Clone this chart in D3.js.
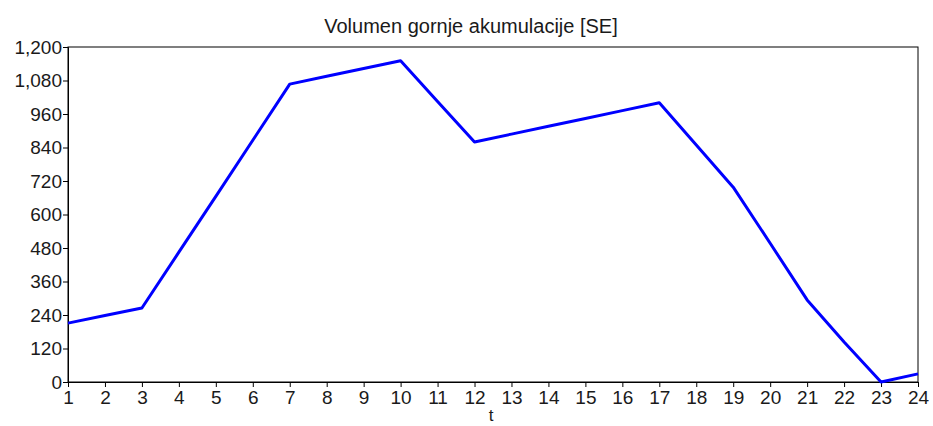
<!DOCTYPE html>
<html lang="en">
<head>
  <meta charset="UTF-8">
  <title>Volumen gornje akumulacije</title>
  <style>
    body { margin: 0; background: #fff; }
    text { font-family: "Liberation Sans", Arial, sans-serif; fill: #1a1a1a; }
  </style>
</head>
<body>
  <svg></svg>
<script src="https://cdn.jsdelivr.net/npm/d3@7/dist/d3.min.js"></script>
<script>
const width = 933;
const height = 426;

// data
const periods = d3.range(1, 25);
const volume = [211, 238, 265, 465, 665, 866, 1067, 1095, 1123, 1151, 1005, 860,
                888, 916, 944, 972, 1000, 849, 698, 497, 294, 143, 0, 29];
const yTicks = [0, 120, 240, 360, 480, 600, 720, 840, 960, 1080, 1200];

const margin = {top: 47, right: 15, bottom: 44, left: 68};

const svg = d3.select('svg')
  .attr('width', width)
  .attr('height', height);

const x = d3.scaleLinear()
  .domain([1, 24])
  .range([margin.left, width - margin.right]);

const y = d3.scaleLinear()
  .domain([0, 1200])
  .range([height - margin.bottom, margin.top]);

// frame
svg.append('rect')
  .attr('x', margin.left)
  .attr('y', margin.top)
  .attr('width', x(24) - x(1))
  .attr('height', y(0) - y(1200))
  .attr('fill', 'none')
  .attr('stroke', '#000')
  .attr('stroke-width', 1);

const fmt = d3.format(',');

const yAxis = svg.append('g')
  .attr('transform', `translate(${margin.left},0)`)
  .call(d3.axisLeft(y).tickValues(yTicks).tickFormat(fmt).tickSize(5).tickPadding(1));

const xAxis = svg.append('g')
  .attr('transform', `translate(0,${y(0)})`)
  .call(d3.axisBottom(x).tickValues(periods).tickFormat(d3.format('d')).tickSize(5).tickPadding(4));

[yAxis, xAxis].forEach(a => {
  a.select('.domain').attr('stroke', '#000');
  a.selectAll('.tick line').attr('stroke', '#000');
  a.selectAll('.tick text')
    .attr('font-size', 19)
    .attr('font-family', '"Liberation Sans", Arial, sans-serif')
    .attr('fill', '#1a1a1a');
});

// line
const line = d3.line()
  .x((d, i) => x(periods[i]))
  .y(d => y(d));

svg.append('path')
  .datum(volume)
  .attr('fill', 'none')
  .attr('stroke', '#0000ff')
  .attr('stroke-width', 3)
  .attr('stroke-linejoin', 'round')
  .attr('d', line);

// title
svg.append('text')
  .attr('x', 471)
  .attr('y', 33)
  .attr('text-anchor', 'middle')
  .attr('font-size', 20)
  .text('Volumen gornje akumulacije [SE]');

// x label
svg.append('text')
  .attr('x', (x(1) + x(24)) / 2 - 2)
  .attr('y', 421)
  .attr('text-anchor', 'middle')
  .attr('font-size', 17)
  .text('t');
</script>
</body>
</html>
